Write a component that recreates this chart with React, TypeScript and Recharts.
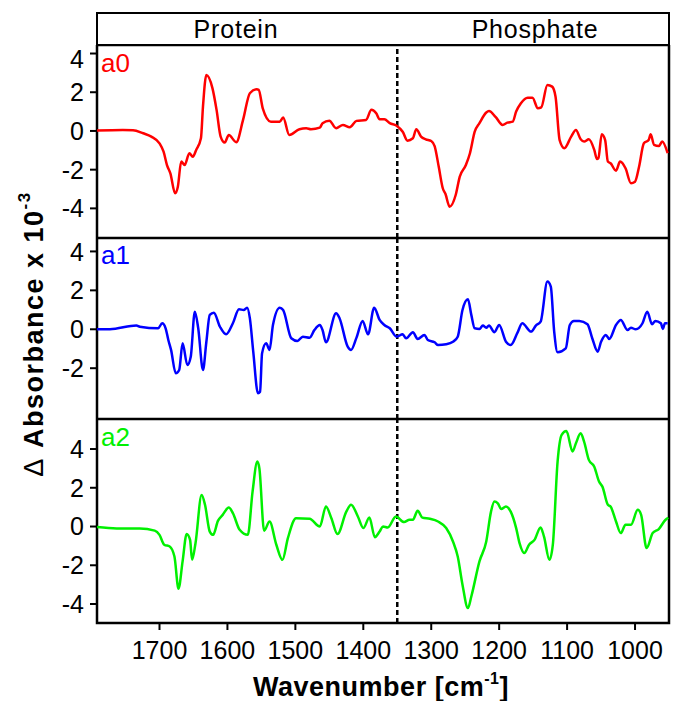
import React from 'react'
import { LineChart, Line, XAxis, YAxis, ReferenceLine, ReferenceArea } from 'recharts'

// wavenumber window (cm-1), plotted high -> low
const X_DOMAIN: [number, number] = [950, 1792]
const X_TICKS = [1700, 1600, 1500, 1400, 1300, 1200, 1100, 1000]
const Y_TICKS = [-4, -2, 0, 2, 4]
const SPLIT_WN = 1350

const a0X = [1792, 1754, 1739, 1724, 1712, 1700, 1694, 1689, 1684, 1677, 1673, 1668, 1663, 1656, 1651, 1646, 1639, 1636, 1631, 1622, 1616, 1610, 1604, 1598, 1587, 1577, 1567, 1557, 1554, 1548, 1536, 1523, 1518, 1509, 1494, 1484, 1477, 1464, 1460, 1450, 1440, 1430, 1420, 1410, 1396, 1388, 1381, 1376, 1369, 1361, 1351, 1342, 1335, 1327, 1322, 1315, 1308, 1300, 1295, 1289, 1283, 1279, 1273, 1264, 1258, 1249, 1243, 1236, 1229, 1219, 1215, 1205, 1195, 1188, 1180, 1175, 1168, 1158, 1151, 1143, 1138, 1129, 1122, 1117, 1111, 1104, 1094, 1087, 1080, 1075, 1068, 1060, 1056, 1054, 1049, 1044, 1040, 1036, 1028, 1022, 1014, 1006, 1000, 994, 987, 980, 977, 972, 965, 960, 952]
const a0Y = [0.02, 0.05, 0.04, -0.12, -0.29, -0.64, -1.07, -1.76, -2.19, -3.22, -2.88, -1.58, -1.76, -1.15, -1.33, -0.98, -0.38, 1.26, 2.89, 2.2, 1.09, -0.29, -0.6, -0.21, -0.58, 0.57, 1.95, 2.15, 2.12, 1.17, 0.48, 0.48, 0.69, -0.21, 0.09, 0.14, 0.09, 0.17, 0.4, 0.53, 0.14, 0.31, 0.19, 0.52, 0.57, 1.09, 0.91, 0.6, 0.6, 0.4, 0.27, -0.04, -0.5, -0.38, 0.09, -0.29, -0.43, -0.52, -0.78, -1.84, -2.96, -3.26, -3.91, -3.31, -2.36, -1.76, -1.15, -0.04, 0.4, 0.95, 1.03, 0.71, 0.31, 0.43, 0.48, 1.0, 1.43, 1.72, 1.72, 1.17, 1.22, 2.38, 2.29, 1.77, -0.47, -0.89, -0.29, 0.05, -0.43, -0.55, -0.43, -0.98, -1.45, -1.41, -0.17, -0.47, -1.58, -1.67, -2.05, -1.58, -1.93, -2.7, -2.62, -1.84, -0.64, -0.47, -0.17, -0.72, -0.78, -0.55, -1.15]

const a1X = [1792, 1773, 1734, 1729, 1702, 1696, 1691, 1687, 1683, 1676, 1671, 1666, 1659, 1654, 1648, 1643, 1636, 1631, 1626, 1620, 1611, 1602, 1592, 1583, 1576, 1571, 1567, 1562, 1555, 1552, 1549, 1543, 1538, 1533, 1523, 1518, 1506, 1497, 1489, 1479, 1472, 1464, 1460, 1455, 1440, 1435, 1423, 1418, 1410, 1401, 1393, 1384, 1376, 1369, 1361, 1351, 1342, 1337, 1327, 1320, 1310, 1305, 1295, 1290, 1278, 1268, 1261, 1254, 1246, 1241, 1236, 1229, 1224, 1219, 1215, 1207, 1200, 1190, 1183, 1173, 1166, 1153, 1146, 1139, 1129, 1124, 1119, 1114, 1102, 1096, 1090, 1082, 1070, 1063, 1055, 1050, 1043, 1038, 1028, 1021, 1011, 1006, 999, 989, 982, 975, 970, 962, 959, 956, 952]
const a1Y = [0, 0, 0.2, 0.13, 0.05, 0.31, 0.05, -0.55, -1.06, -2.26, -2.09, -0.72, -1.84, -1.41, 0.9, 0.05, -2.09, -0.64, 0.74, 0.85, 0.13, -0.26, 0.31, 1.03, 0.99, 1.11, 0.57, -1.15, -3.29, -3.21, -1.23, -0.72, -1.06, 0.22, 1.11, 0.99, -0.46, -0.6, -0.38, -0.43, -0.04, 0.22, -0.04, -0.67, 0.82, 0.57, -0.89, -1.06, -0.43, 0.43, -0.26, 1.11, 0.48, 0.22, 0.05, -0.38, -0.26, -0.46, -0.15, -0.5, -0.29, -0.55, -0.67, -0.81, -0.77, -0.64, -0.38, 0.99, 1.54, 0.74, 0.05, 0.02, 0.19, 0.08, 0.19, -0.15, 0.22, -0.64, -0.81, -0.17, 0.31, -0.12, 0.19, 0.39, 2.45, 2.19, -0.12, -1.18, -0.98, 0.22, 0.43, 0.43, 0.26, -0.46, -1.15, -0.64, -0.29, -0.5, 0.22, 0.48, -0.04, 0.08, 0, 0.31, 0.9, 0.26, 0.43, 0.31, 0.02, 0.31, 0.31]

const a2X = [1792, 1763, 1729, 1707, 1700, 1693, 1685, 1678, 1672, 1666, 1660, 1655, 1652, 1647, 1638, 1633, 1626, 1621, 1614, 1607, 1598, 1592, 1582, 1570, 1563, 1556, 1553, 1546, 1538, 1528, 1519, 1511, 1499, 1479, 1464, 1455, 1447, 1438, 1425, 1418, 1408, 1400, 1391, 1383, 1376, 1371, 1364, 1352, 1340, 1332, 1327, 1320, 1313, 1302, 1290, 1278, 1268, 1261, 1254, 1246, 1241, 1229, 1219, 1212, 1207, 1202, 1197, 1190, 1183, 1175, 1170, 1163, 1156, 1148, 1139, 1134, 1126, 1121, 1114, 1108, 1101, 1092, 1087, 1080, 1075, 1068, 1060, 1053, 1048, 1040, 1036, 1028, 1021, 1014, 1006, 996, 991, 983, 974, 965, 955, 951]
const a2Y = [-0.03, -0.1, -0.1, -0.21, -0.43, -0.94, -1.03, -1.55, -3.21, -1.8, -0.38, -0.69, -1.72, -0.86, 1.63, 1.12, -0.26, -0.43, 0.29, 0.6, 0.98, 0.69, -0.17, -0.43, 1.8, 3.35, 3.01, -0.22, 0.26, -0.94, -1.72, -0.6, 0.43, 0.4, 0, 1.03, 0.43, -0.39, 0.77, 1.12, 0.52, -0.08, 0.46, -0.55, -0.26, 0, -0.05, 0.52, 0.23, 0.35, 0.35, 0.81, 0.46, 0.4, 0.26, -0.08, -0.77, -1.55, -3.0, -4.21, -3.61, -1.8, -0.77, 0.77, 1.29, 1.2, 0.9, 1.03, 0.77, -0.08, -0.86, -1.37, -0.94, -0.69, -0.05, -0.52, -1.72, -0.94, 3.35, 4.73, 4.93, 3.87, 4.3, 4.81, 4.38, 3.44, 3.09, 2.32, 2.06, 1.12, 1.03, 0.26, -0.34, 0.09, 0.09, 0.86, 0.6, -1.11, -0.34, -0.13, 0.35, 0.45]

const FONT = '"Liberation Sans", Arial, Helvetica, sans-serif'

interface PanelProps {
  top: number
  height: number
  xs: number[]
  ys: number[]
  color: string
  yDomain: [number, number]
  showX?: boolean
}

function Panel({ top, height, xs, ys, color, yDomain, showX }: PanelProps) {
  const data = xs.map((wn, i) => ({ wn, v: ys[i] }))
  return (
    <div style={{ position: 'absolute', left: 0, top }}>
      <LineChart width={681} height={height} data={data} margin={{ top: 0, right: 12, bottom: 0, left: 0 }}>
        <XAxis
          dataKey="wn"
          type="number"
          domain={X_DOMAIN}
          reversed
          allowDataOverflow
          ticks={X_TICKS}
          hide={!showX}
          height={showX ? 60 : 0}
          axisLine={false}
          tickLine={{ stroke: '#000', strokeWidth: 2 }}
          tickSize={7}
          tickMargin={11}
          tick={{ fill: '#000', fontSize: 25, fontFamily: FONT }}
        />
        <YAxis
          type="number"
          domain={yDomain}
          allowDataOverflow
          ticks={Y_TICKS}
          width={97}
          axisLine={false}
          tickLine={{ stroke: '#000', strokeWidth: 2 }}
          tickSize={7}
          tickMargin={6}
          tick={{ fill: '#000', fontSize: 25, fontFamily: FONT }}
        />
        <ReferenceLine x={SPLIT_WN} stroke="#000" strokeWidth={2.5} strokeDasharray="5 3" />
        <Line
          dataKey="v"
          type="monotone"
          stroke={color}
          strokeWidth={2.5}
          dot={false}
          isAnimationActive={false}
        />
        <ReferenceArea
          x1={X_DOMAIN[1]}
          x2={X_DOMAIN[0]}
          y1={yDomain[0]}
          y2={yDomain[1]}
          fill="none"
          fillOpacity={0}
          stroke="#000"
          strokeWidth={2.5}
        />
      </LineChart>
    </div>
  )
}

// title strip above the panels: only the split line comes from the chart scale
function Header() {
  return (
    <>
      <div
        style={{
          position: 'absolute',
          left: 96,
          top: 12,
          width: 574,
          height: 34,
          boxSizing: 'border-box',
          border: '2.5px solid #000',
        }}
      />
      <div style={{ position: 'absolute', left: 0, top: 13 }}>
        <LineChart width={681} height={32} data={[{ wn: 1792 }, { wn: 950 }]} margin={{ top: 0, right: 12, bottom: 0, left: 97 }}>
          <XAxis dataKey="wn" type="number" domain={X_DOMAIN} reversed allowDataOverflow hide />
          <YAxis type="number" domain={[0, 1]} hide />
          <ReferenceLine x={SPLIT_WN} stroke="#000" strokeWidth={2.5} strokeDasharray="5 3" />
        </LineChart>
      </div>
    </>
  )
}

export default function App() {
  return (
    <div
      style={{
        position: 'absolute',
        left: 0,
        top: 0,
        width: 681,
        height: 701,
        background: '#fff',
        fontFamily: FONT,
      }}
    >
      <Header />
      <Panel top={45} height={193} xs={a0X} ys={a0Y} color="#ff0000" yDomain={[-5.53, 4.44]} />
      <Panel top={238} height={181} xs={a1X} ys={a1Y} color="#0000ff" yDomain={[-4.61, 4.69]} />
      <Panel top={419} height={264} xs={a2X} ys={a2Y} color="#00f000" yDomain={[-4.98, 5.55]} showX />

      {/* titles and panel tags */}
      <svg
        width={681}
        height={701}
        style={{ position: 'absolute', left: 0, top: 0, pointerEvents: 'none' }}
        fontFamily={FONT}
      >
        <text x={236} y={38} textAnchor="middle" fontSize={25} letterSpacing={0.8} fill="#000">
          Protein
        </text>
        <text x={535} y={38} textAnchor="middle" fontSize={25} letterSpacing={0.8} fill="#000">
          Phosphate
        </text>

        <text x={101} y={72} fontSize={26} fill="#ff0000">a0</text>
        <text x={101} y={264} fontSize={26} fill="#0000ff">a1</text>
        <text x={101} y={446} fontSize={26} fill="#00f000">a2</text>

        <text
          transform="translate(43,334) rotate(-90)"
          textAnchor="middle"
          fontSize={27}
          fontWeight="bold"
          letterSpacing={1.5}
          fill="#000"
        >
          <tspan fontWeight="normal">Δ</tspan> Absorbance x 10
          <tspan fontSize={17} dy={-13}>-3</tspan>
        </text>

        <text x={381} y={696} textAnchor="middle" fontSize={27} fontWeight="bold" letterSpacing={0.5} fill="#000">
          Wavenumber [cm
          <tspan fontSize={16} dy={-12}>-1</tspan>
          <tspan dy={12}>]</tspan>
        </text>
      </svg>
    </div>
  )
}
